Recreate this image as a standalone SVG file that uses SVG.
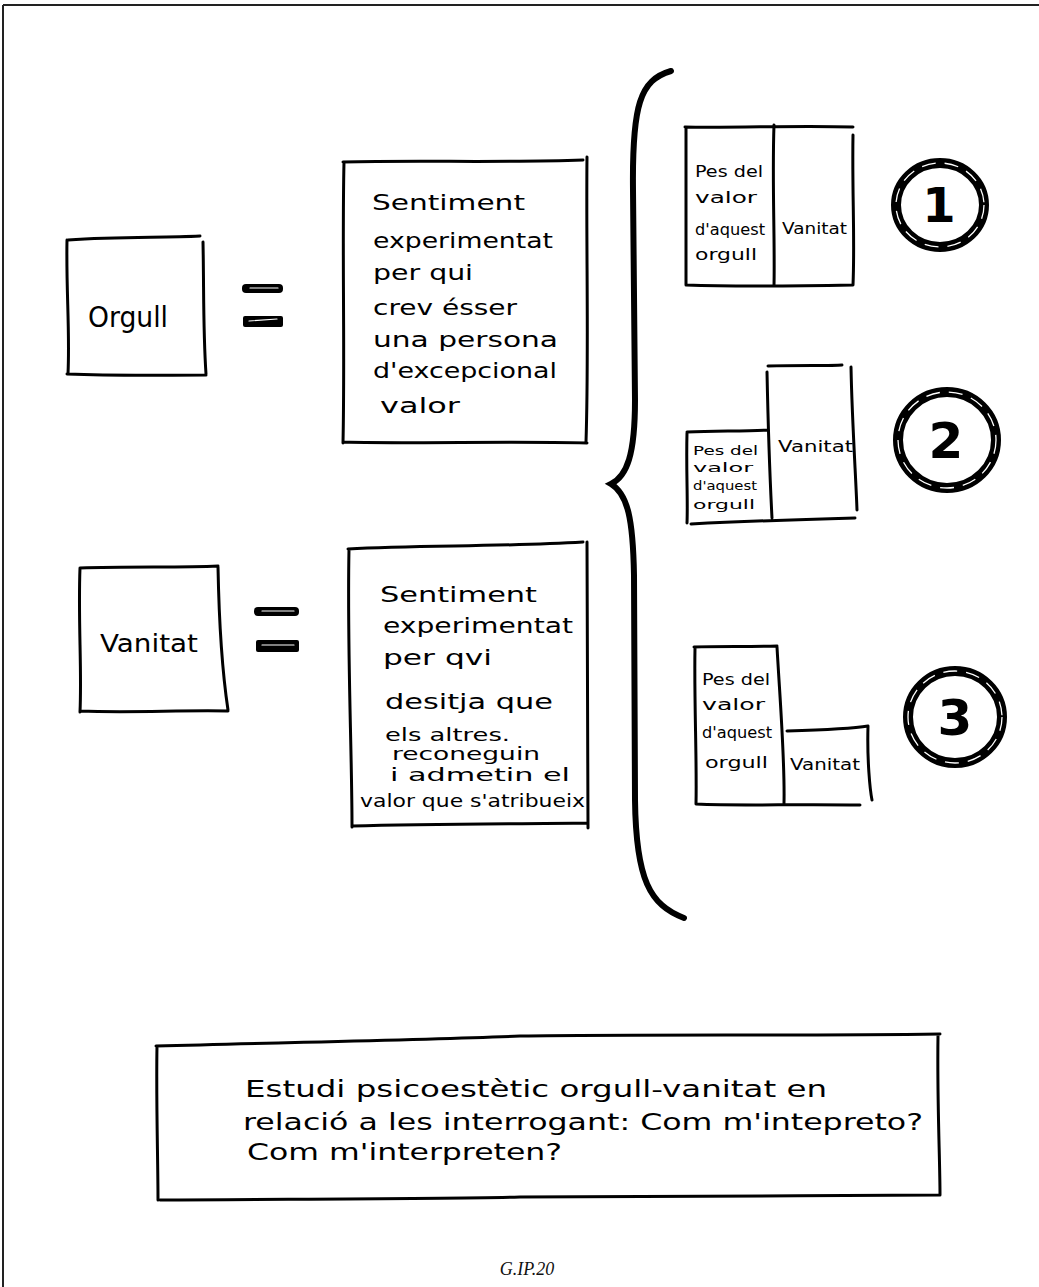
<svg xmlns="http://www.w3.org/2000/svg" width="1039" height="1287" viewBox="0 0 1039 1287">
<style>
.ln{fill:none;stroke:#000;stroke-width:3;stroke-linecap:round;stroke-linejoin:round}
.hw{font-family:"DejaVu Sans","Liberation Sans",sans-serif;fill:#000;font-weight:normal}
.ring{fill:none;stroke:#000;stroke-width:10}
.hl{fill:none;stroke:#fff;stroke-width:1.3;stroke-dasharray:14 9}
.num{font-family:"DejaVu Sans","Liberation Sans",sans-serif;font-weight:bold;fill:#000;text-anchor:middle}
.eq{fill:#000}
.eqh{fill:none;stroke:#fff;stroke-width:1.2;stroke-linecap:round}
</style>
<rect x="0" y="0" width="1039" height="1287" fill="#fff"/>
<g id="frame">
<path d="M3,5 L1039,5" stroke="#222" stroke-width="2" fill="none"/>
<path d="M3,5 L3,1287" stroke="#222" stroke-width="2" fill="none"/>
</g>

<g id="orgull">
<path class="ln" d="M68,240 C120,236 160,238 200,236 M67,240 C66,290 70,330 68,374 M203,242 C204,290 203,330 206,374 M67,374 C120,376 160,375 206,375"/>
<text class="hw" x="88" y="327" font-size="28" textLength="80" lengthAdjust="spacingAndGlyphs">Orgull</text>
</g>

<g id="def-orgull">
<path class="ln" d="M343,162 C420,160 500,163 583,160 M344,162 C342,250 345,350 343,443 M587,157 C586,250 589,350 586,442 M343,442 C420,444 500,441 587,443"/>
<g class="hw" font-size="21">
<text x="372" y="210" textLength="153" lengthAdjust="spacingAndGlyphs">Sentiment</text>
<text x="373" y="248" textLength="180" lengthAdjust="spacingAndGlyphs">experimentat</text>
<text x="373" y="280" textLength="100" lengthAdjust="spacingAndGlyphs">per qui</text>
<text x="373" y="315" textLength="144" lengthAdjust="spacingAndGlyphs">crev ésser</text>
<text x="373" y="347" textLength="185" lengthAdjust="spacingAndGlyphs">una persona</text>
<text x="373" y="378" textLength="184" lengthAdjust="spacingAndGlyphs">d'excepcional</text>
<text x="380" y="413" textLength="80" lengthAdjust="spacingAndGlyphs">valor</text>
</g>
</g>

<g id="vanitat">
<path class="ln" d="M80,568 C130,566 180,568 218,566 M80,568 C78,620 82,670 80,712 M218,567 C219,620 222,670 228,710 M80,711 C130,713 180,710 228,711"/>
<text class="hw" x="100" y="652" font-size="24" textLength="98" lengthAdjust="spacingAndGlyphs">Vanitat</text>
</g>

<g id="def-vanitat">
<path class="ln" d="M348,549 C420,545 500,547 583,542 M349,549 C347,650 352,750 352,827 M587,542 C587,650 588,750 588,828 M352,826 C430,824 510,824 588,823"/>
<g class="hw" font-size="21">
<text x="380" y="602" textLength="157" lengthAdjust="spacingAndGlyphs">Sentiment</text>
<text x="383" y="633" textLength="190" lengthAdjust="spacingAndGlyphs">experimentat</text>
<text x="383" y="665" textLength="109" lengthAdjust="spacingAndGlyphs">per qvi</text>
<text x="385" y="709" textLength="168" lengthAdjust="spacingAndGlyphs">desitja que</text>
</g>
<g class="hw" font-size="17">
<text x="385" y="741" textLength="125" lengthAdjust="spacingAndGlyphs">els altres.</text>
<text x="392" y="760" textLength="148" lengthAdjust="spacingAndGlyphs">reconeguin</text>
<text x="390" y="781" textLength="180" lengthAdjust="spacingAndGlyphs">i admetin el</text>
<text x="360" y="807" textLength="225" lengthAdjust="spacingAndGlyphs">valor que s'atribueix</text>
</g>
</g>

<g id="case1">
<path class="ln" d="M685,127 C740,128 800,125 853,127 M686,128 L686,285 M774,125 C772,180 775,240 774,286 M853,135 C852,190 855,240 853,285 M686,285 C740,287 800,286 853,285"/>
<g class="hw" font-size="15">
<text x="695" y="177" textLength="68" lengthAdjust="spacingAndGlyphs">Pes del</text>
<text x="695" y="203" textLength="62" lengthAdjust="spacingAndGlyphs">valor</text>
<text x="695" y="235" textLength="70" lengthAdjust="spacingAndGlyphs">d'aquest</text>
<text x="695" y="260" textLength="62" lengthAdjust="spacingAndGlyphs">orgull</text>
<text x="782" y="234" textLength="65" lengthAdjust="spacingAndGlyphs">Vanitat</text>
</g>
<ellipse class="ring" cx="940" cy="205" rx="44" ry="42"/>
<ellipse class="hl" cx="940" cy="205" rx="44" ry="42"/>
<text class="num" x="939" y="222" font-size="48">1</text>
</g>

<g id="case2">
<path class="ln" d="M687,432 C720,431 750,431 768,430 M687,433 C686,470 688,500 687,523 M691,524 C730,522 780,520 855,518 M768,366 C800,365 830,366 842,365 M767,372 C768,420 770,480 772,518 M851,367 C852,420 856,480 857,510"/>
<g class="hw" font-size="13">
<text x="693" y="455" textLength="65" lengthAdjust="spacingAndGlyphs">Pes del</text>
<text x="693" y="472" textLength="60" lengthAdjust="spacingAndGlyphs">valor</text>
<text x="693" y="490" textLength="64" lengthAdjust="spacingAndGlyphs">d'aquest</text>
<text x="693" y="509" textLength="62" lengthAdjust="spacingAndGlyphs">orgull</text>
<text x="778" y="452" textLength="75" lengthAdjust="spacingAndGlyphs" font-size="15">Vanitat</text>
</g>
<ellipse class="ring" cx="947" cy="440" rx="49" ry="48"/>
<ellipse class="hl" cx="947" cy="440" rx="49" ry="48"/>
<text class="num" x="946" y="458" font-size="50">2</text>
</g>

<g id="case3">
<path class="ln" d="M694,647 C720,646 750,647 777,646 M695,648 C694,700 697,760 696,804 M777,647 C780,700 785,760 784,803 M696,804 C740,806 790,804 860,805 M787,731 C820,730 850,729 868,726 M868,726 C867,760 870,790 872,800"/>
<g class="hw" font-size="16">
<text x="702" y="685" textLength="68" lengthAdjust="spacingAndGlyphs">Pes del</text>
<text x="702" y="710" textLength="63" lengthAdjust="spacingAndGlyphs">valor</text>
<text x="702" y="738" textLength="70" lengthAdjust="spacingAndGlyphs">d'aquest</text>
<text x="705" y="768" textLength="63" lengthAdjust="spacingAndGlyphs">orgull</text>
<text x="790" y="770" textLength="70" lengthAdjust="spacingAndGlyphs" font-size="15">Vanitat</text>
</g>
<ellipse class="ring" cx="955" cy="717" rx="47" ry="46"/>
<ellipse class="hl" cx="955" cy="717" rx="47" ry="46"/>
<text class="num" x="955" y="735" font-size="50">3</text>
</g>

<g id="connectors">
<rect class="eq" x="242" y="284" width="41" height="9" rx="4"/>
<path class="eqh" d="M250,288 L278,288"/>
<rect class="eq" x="243" y="316" width="40" height="11" rx="2"/>
<path class="eqh" d="M249,321 L277,319"/>
<rect class="eq" x="254" y="607" width="45" height="9" rx="4"/>
<path class="eqh" d="M262,611 L294,611"/>
<rect class="eq" x="256" y="640" width="43" height="12" rx="2"/>
<path class="eqh" d="M262,645 L294,645"/>
<path d="M671,71 C640,80 632,105 633,190 L635,400 C635,455 627,476 611,484 C628,494 633,520 634,575 L635,800 C636,880 650,905 684,918" fill="none" stroke="#000" stroke-width="6" stroke-linecap="round" stroke-linejoin="miter"/>
</g>

<g id="summary">
<path class="ln" d="M156,1046 C300,1042 420,1040 520,1036 C650,1034 800,1036 940,1034 M157,1046 C156,1100 158,1160 158,1200 M938,1036 C937,1100 940,1160 940,1195 M160,1200 C300,1199 450,1199 520,1197 C650,1196 800,1196 940,1195"/>
<g class="hw" font-size="23">
<text x="245" y="1097" textLength="582" lengthAdjust="spacingAndGlyphs">Estudi psicoestètic orgull-vanitat  en</text>
<text x="243" y="1130" textLength="680" lengthAdjust="spacingAndGlyphs">relació a les interrogant: Com m'intepreto?</text>
<text x="247" y="1160" textLength="315" lengthAdjust="spacingAndGlyphs">Com m'interpreten?</text>
</g>
</g>

<text id="footer" x="527" y="1275" font-family="Liberation Serif, serif" font-style="italic" font-size="18" text-anchor="middle" fill="#111">G.IP.20</text>
</svg>
